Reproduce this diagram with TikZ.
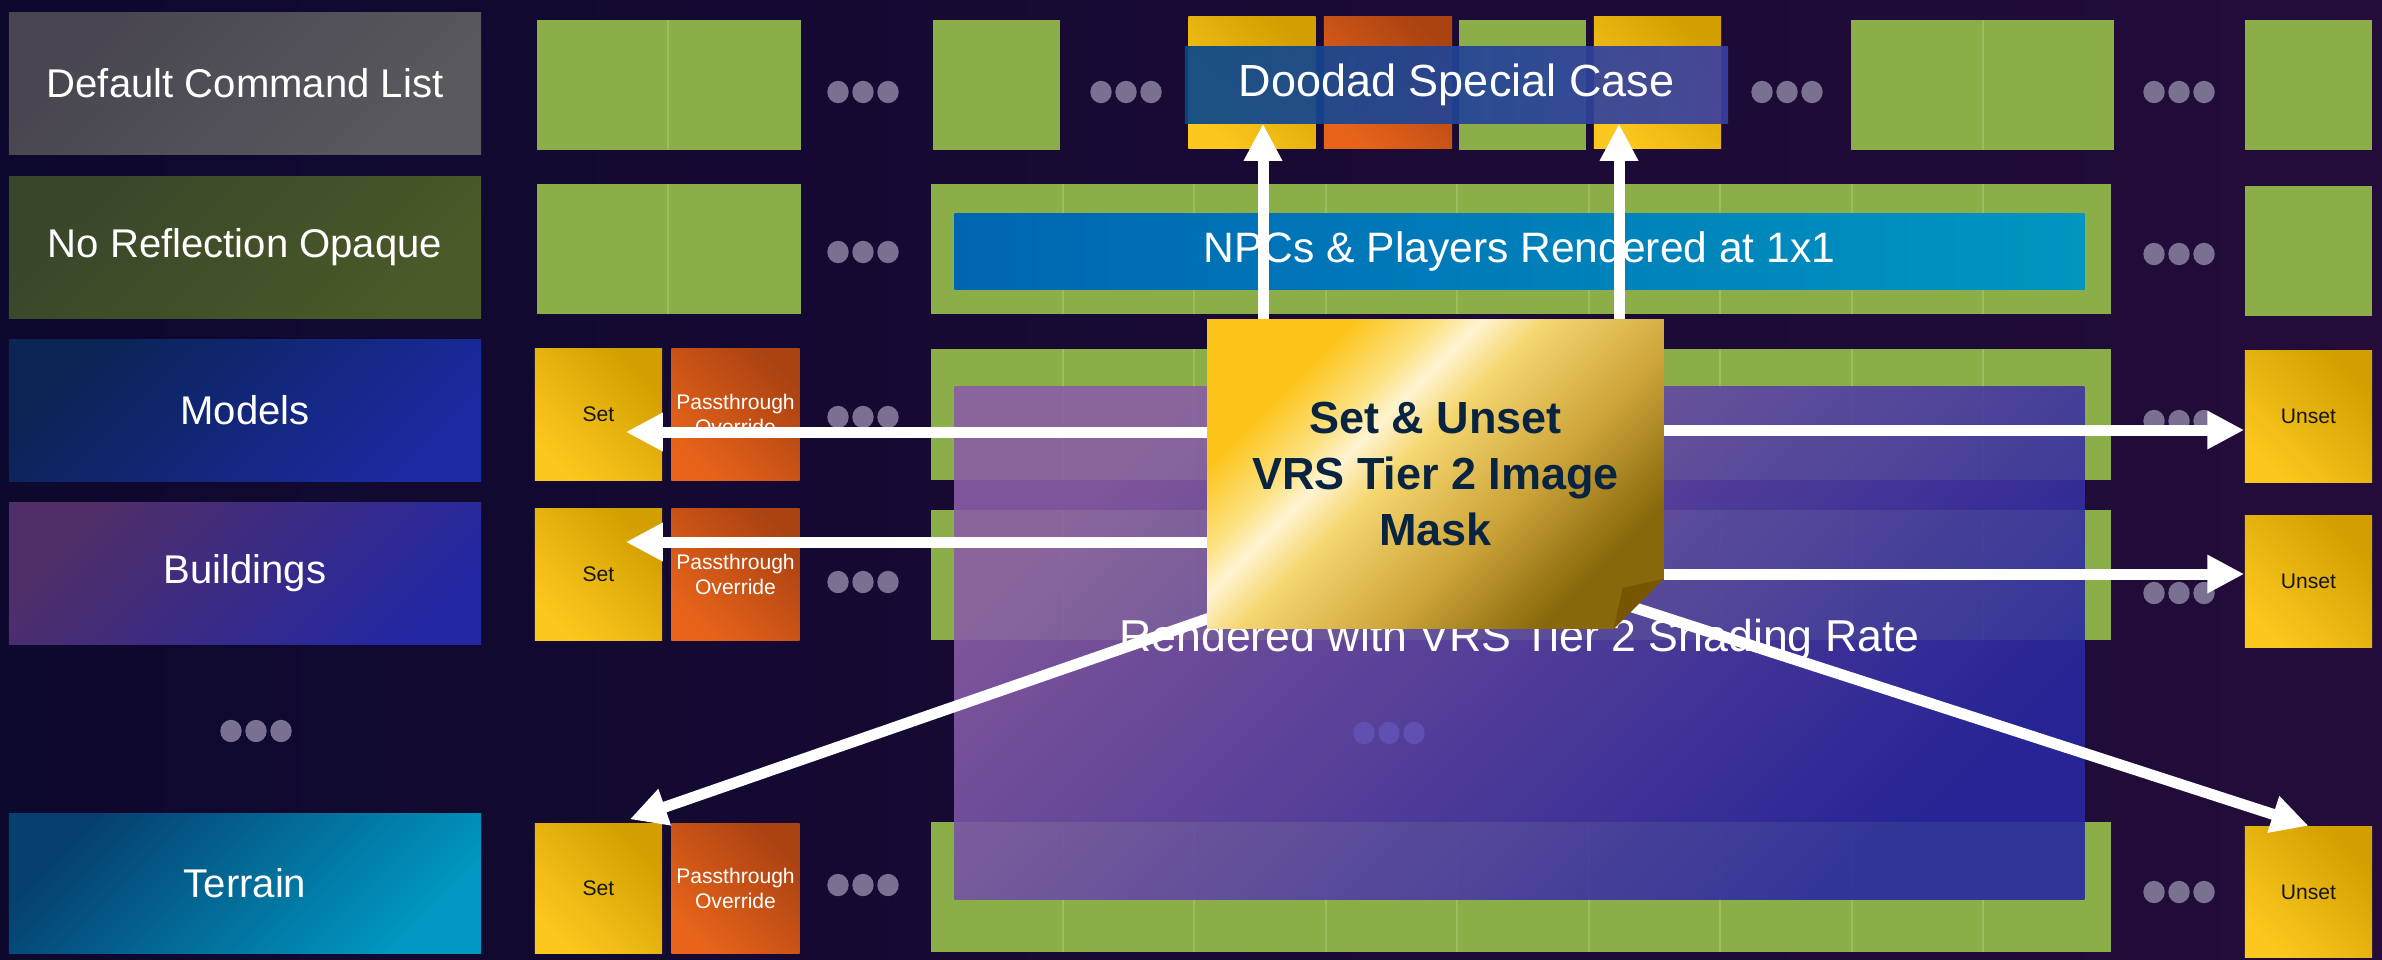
\documentclass[tikz,border=0pt]{standalone}
\usepackage{fontspec}
\setmainfont{Liberation Sans}
\usetikzlibrary{arrows.meta,calc,positioning}

\definecolor{bgleft}{RGB}{13,8,46}
\definecolor{bgright}{RGB}{35,12,58}
\definecolor{cmdgreen}{RGB}{139,174,72}
\definecolor{cmdline}{RGB}{155,189,96}
\definecolor{setlight}{RGB}{252,200,30}
\definecolor{setdark}{RGB}{210,158,0}
\definecolor{passlight}{RGB}{232,100,26}
\definecolor{passdark}{RGB}{170,66,18}
\definecolor{setink}{RGB}{22,22,22}
\definecolor{dotgray}{RGB}{122,112,146}
\definecolor{dotfaint}{RGB}{96,80,178}
\definecolor{npcleft}{RGB}{0,102,178}
\definecolor{npcright}{RGB}{0,150,192}
\definecolor{doodleft}{RGB}{8,72,140}
\definecolor{doodright}{RGB}{60,64,162}
\definecolor{vrsTL}{RGB}{138,94,166}
\definecolor{vrsBR}{RGB}{40,40,160}
\definecolor{dclA}{RGB}{72,69,80}
\definecolor{dclB}{RGB}{90,89,94}
\definecolor{nroA}{RGB}{58,70,42}
\definecolor{nroB}{RGB}{74,90,40}
\definecolor{modA}{RGB}{10,36,84}
\definecolor{modB}{RGB}{26,42,160}
\definecolor{bldA}{RGB}{80,46,104}
\definecolor{bldB}{RGB}{36,40,162}
\definecolor{terA}{RGB}{6,64,112}
\definecolor{terB}{RGB}{0,152,194}
\definecolor{maskink}{RGB}{8,36,64}
\definecolor{maskA}{RGB}{252,196,25}
\definecolor{maskB}{RGB}{253,226,130}
\definecolor{maskC}{RGB}{255,244,210}
\definecolor{maskD}{RGB}{245,214,110}
\definecolor{maskE}{RGB}{204,164,58}
\definecolor{maskF}{RGB}{136,104,10}
\definecolor{flapbrown}{RGB}{118,86,0}

\pgfdeclarehorizontalshading{goldmask}{100bp}{%
  color(0bp)=(maskA); color(28bp)=(maskA); color(36bp)=(maskB);
  color(40bp)=(maskC); color(46bp)=(maskD); color(60bp)=(maskE);
  color(74bp)=(maskF); color(100bp)=(maskF)}

% three grey blobs for "more of the same"
\newcommand{\moredots}[3][dotgray]{%
  \foreach \k in {-1,0,1}
    \fill[#1] ({#2+25*\k},#3) ellipse [x radius=0.107cm, y radius=0.112cm];}

\begin{document}
\begin{tikzpicture}[x=0.01cm, y=-0.01cm, >={Triangle[width=0.36cm,length=0.37cm]},
  lane/.style={minimum width=4.72cm, minimum height=1.41cm, inner sep=0pt,
    text=white, font=\fontsize{11.4}{13.7}\selectfont},
  cmd/.style={fill=cmdgreen, minimum width=1.27cm, minimum height=1.30cm, inner sep=0pt},
  setbox/.style={top color=setdark, bottom color=setlight, shading angle=-45,
    minimum width=1.27cm, minimum height=1.31cm, inner sep=0pt,
    text=setink, font=\fontsize{6}{7.1}\selectfont},
  passbox/.style={top color=passdark, bottom color=passlight, shading angle=-45,
    minimum width=1.28cm, minimum height=1.31cm, inner sep=0pt, align=center,
    text=white, font=\fontsize{6}{7.1}\selectfont},
  divider/.style={draw=cmdline, line width=0.5pt},
  flow/.style={->, draw=white, line width=0.11cm},
  banner/.style={text=white, inner sep=0pt},
  masklabel/.style={align=center, text=maskink,
    font=\bfseries\fontsize{12.8}{15.9}\selectfont}]

  \useasboundingbox (0,0) rectangle (2382,959);
  \shade[left color=bgleft, right color=bgright] (0,0) rectangle (2382,959);

  % lanes
  \node[lane, top color=dclA, bottom color=dclB, shading angle=45] (dcl) at (245,83.5) {Default Command List};
  \node[lane, top color=nroA, bottom color=nroB, shading angle=45] (nro) at (245,247.5) {No Reflection Opaque};
  \node[lane, top color=modA, bottom color=modB, shading angle=45] (models) at (245,410.5) {Models};
  \node[lane, top color=bldA, bottom color=bldB, shading angle=45] (buildings) at (245,573.5) {Buildings};
  \moredots{256}{731}
  \node[lane, top color=terA, bottom color=terB, shading angle=45, minimum height=1.39cm] (terrain) at (245,883.5) {Terrain};

  % default command list row
  \node[cmd, minimum width=2.64cm] (d01) at (669,85) {};
  \moredots{863}{92}
  \node[cmd] (d3) at (996.5,85) {};
  \moredots{1126}{92}
  \node[setbox, minimum height=1.31cm] (dd5) at (1252,82.5) {};
  \node[passbox] (dd6) at (1388,82.5) {};
  \node[cmd] (dd7) at (1522.5,85) {};
  \node[setbox] (dd8) at (1657.5,82.5) {};
  \moredots{1787}{92}
  \node[cmd, minimum width=2.63cm] (d1011) at (1982.5,85) {};
  \moredots{2179}{92}
  \node[cmd] (d13) at (2308.5,85) {};

  % no reflection opaque row
  \node[cmd, minimum width=2.64cm] (n01) at (669,249) {};
  \moredots{863}{252}
  \node[cmd, minimum width=11.80cm] (n311) at (1521,249) {};
  \moredots{2179}{254}
  \node[cmd] (n13) at (2308.5,251) {};

  % models / buildings / terrain rows
  \node[setbox] (mset) at (598.5,414.5) {Set};
  \node[passbox, right=0.08cm of mset] (mpass) {Passthrough\\Override};
  \moredots{863}{417}
  \node[cmd, minimum width=11.80cm, minimum height=1.31cm] (m311) at (1521,414.5) {};
  \moredots{2179}{421}
  \node[setbox] (munset) at (2308.5,416.5) {Unset};

  \node[setbox] (bset) at (598.5,574.5) {Set};
  \node[passbox, right=0.08cm of bset] (bpass) {Passthrough\\Override};
  \moredots{863}{582}
  \node[cmd, minimum width=11.80cm] (b311) at (1521,575) {};
  \moredots{2179}{593}
  \node[setbox] (bunset) at (2308.5,581.5) {Unset};

  \node[setbox, minimum height=1.29cm] (tset) at (598.5,888.5) {Set};
  \node[passbox, minimum height=1.29cm, right=0.08cm of tset] (tpass) {Passthrough\\Override};
  \moredots{863}{885}
  \node[cmd] [minimum width=11.80cm] (t311) at (1521,887) {};
  \moredots{2179}{892}
  \node[setbox] (tunset) at (2308.5,892) {Unset};

  % cell seams on the green
  \foreach \x in {668} \draw[divider] (\x,20) -- (\x,150) (\x,184) -- (\x,314);
  \draw[divider] (1983,20) -- (1983,150);
  \foreach \top/\bot in {184/314, 349/480, 510/640, 822/952}
    \foreach \x in {1063,1194,1326,1457,1589,1720,1852,1983}
      \draw[divider] (\x,\top) -- (\x,\bot);

  % overlays
  \node[banner, left color=doodleft, right color=doodright, fill opacity=0.92, text opacity=1,
    minimum width=5.43cm, minimum height=0.76cm, font=\fontsize{12.8}{15}\selectfont] (doodad) at (1456.5,85) {Doodad Special Case};
  \node[banner, left color=npcleft, right color=npcright, minimum width=11.29cm, minimum height=0.75cm,
    font=\fontsize{12.1}{15}\selectfont] (npc) at (1519.5,251.5) {NPCs \& Players Rendered at 1x1};
  \node[top color=vrsTL, bottom color=vrsBR, shading angle=45, fill opacity=0.9,
    minimum width=11.29cm, minimum height=5.12cm, inner sep=0pt] (vrs) at (1519.5,643) {};
  \moredots[dotfaint]{1389}{733}
  \node[banner, font=\fontsize{12.7}{15}\selectfont] (rendered) at (1519.5,640) {Rendered with VRS Tier 2 Shading Rate};

  % the mask and its arrows
  \node[minimum width=4.55cm, minimum height=3.08cm, inner sep=0pt] (mask) at (1435.5,474) {};
  \coordinate (upL) at (1263,0);
  \coordinate (upR) at (1619,0);
  \coordinate (lvM) at (0,432);
  \coordinate (lvB) at (0,542);
  \coordinate (rvM) at (0,430);
  \coordinate (rvB) at (0,574);

  \draw[flow] (mask.north -| upL) -- (doodad.south -| upL);
  \draw[flow] (mask.north -| upR) -- (doodad.south -| upR);
  \draw[flow] (mask.west |- lvM) -- ($(mset.east |- lvM)+(-37,0)$);
  \draw[flow] (mask.west |- lvB) -- ($(bset.east |- lvB)+(-37,0)$);
  \draw[flow] ($(mask.south west)+(6,-12)$) -- ($(tset.north east)+(-33,-4)$);
  \draw[flow] (mask.east |- rvM) -- (munset.west |- rvM);
  \draw[flow] (mask.east |- rvB) -- (bunset.west |- rvB);
  \draw[flow] ($(mask.south east)+(-35,-23)$) -- (tunset.north);

  \shade[shading=goldmask, shading angle=-45] (mask.north west) -- (mask.north east)
    -- ($(mask.south east)+(0,-50)$) -- ($(mask.south east)+(-50,0)$) -- (mask.south west) -- cycle;
  \fill[flapbrown] ($(mask.south east)+(0,-50)$) -- ($(mask.south east)+(-41,-41)$)
    -- ($(mask.south east)+(-50,0)$) -- cycle;
  \node[masklabel] (masktext) at (mask.center) {Set \& Unset\\VRS Tier 2 Image\\Mask};
\end{tikzpicture}
\end{document}
